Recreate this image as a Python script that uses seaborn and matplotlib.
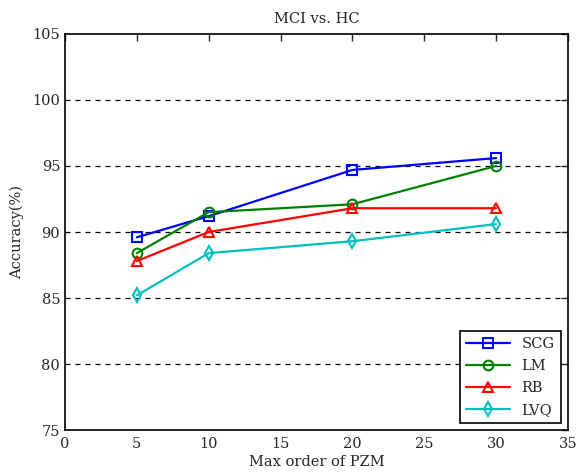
import matplotlib
matplotlib.use("Agg")
import matplotlib.pyplot as plt
import seaborn as sns
import pandas as pd

order = [5, 10, 20, 30]
scg = [89.6, 91.2, 94.7, 95.6]
lm = [88.4, 91.5, 92.1, 95.0]
rb = [87.8, 90.0, 91.8, 91.8]
lvq = [85.2, 88.4, 89.3, 90.6]

series = {"SCG": scg, "LM": lm, "RB": rb, "LVQ": lvq}
colors = {"SCG": "#0000ff", "LM": "#008000", "RB": "#ff0000", "LVQ": "#00bfbf"}
markers = {"SCG": "s", "LM": "o", "RB": "^", "LVQ": "d"}

sns.set_style("white")
plt.rcParams["font.family"] = ["DejaVu Serif"]

fig = plt.figure(figsize=(5.78, 4.76), dpi=100)
ax = fig.add_axes([0.1125, 0.0966, 0.870, 0.832])

for name, vals in series.items():
    df = pd.DataFrame({"order": order, "acc": vals})
    sns.lineplot(data=df, x="order", y="acc", ax=ax, color=colors[name],
                 marker=markers[name], markersize=7, mfc="none",
                 mec=colors[name], mew=1.5, linewidth=1.6, label=name)

ax.set_xlim(0, 35)
ax.set_ylim(75, 105)
ax.set_xticks(range(0, 36, 5))
ax.set_yticks(range(75, 106, 5))
for y in range(80, 105, 5):
    ax.axhline(y, color="black", linestyle=(0, (4, 4)), linewidth=0.9, zorder=0)

ax.tick_params(direction="in", top=True, right=True, length=5, labelsize=10.5, width=1)
ax.tick_params(axis="x", pad=5)
for s in ax.spines.values():
    s.set_color("black")
    s.set_linewidth(1.2)

ax.set_xlabel("Max order of PZM", fontsize=10.5, labelpad=3)
ax.set_ylabel("Accuracy(%)", fontsize=10.5, labelpad=6)
ax.set_title("MCI vs. HC", fontsize=10.5, pad=8)

leg = ax.legend(loc="lower right", fontsize=10.5, fancybox=False, framealpha=1,
                edgecolor="black", borderaxespad=0.5, handlelength=3.0,
                labelspacing=0.55)
leg.get_frame().set_linewidth(1.2)

fig.savefig("out.png", dpi=100)
